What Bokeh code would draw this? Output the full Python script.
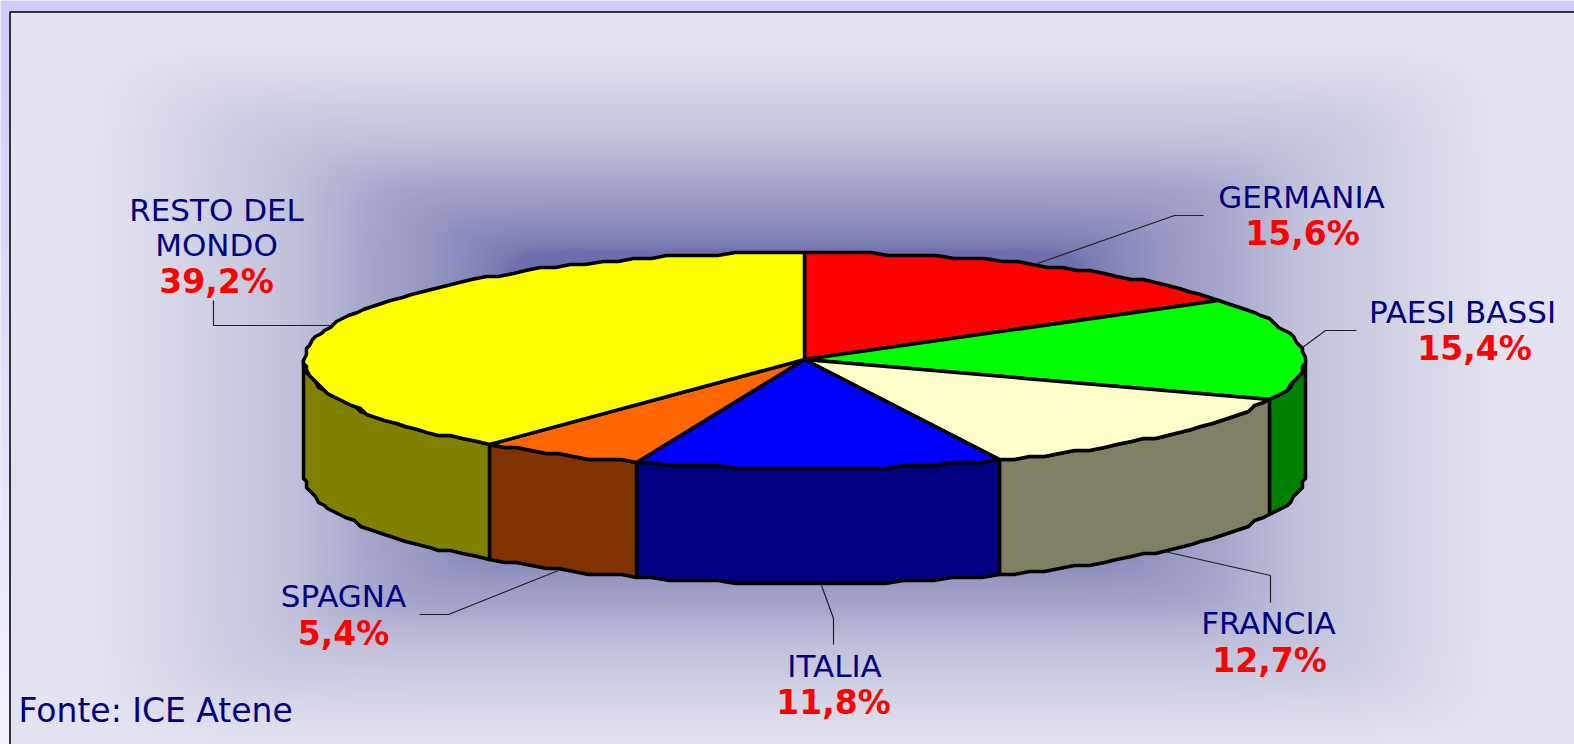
import numpy as np
from bokeh.plotting import figure
from bokeh.models import Range1d
from bokeh.core.properties import value
from bokeh.embed import file_html
from bokeh.resources import INLINE

# ---- data ----
labels = ["GERMANIA", "PAESI BASSI", "FRANCIA", "ITALIA", "SPAGNA", "RESTO DEL MONDO"]
shares = [15.6, 15.4, 12.7, 11.8, 5.4, 39.2]
top_colors = ["#ff0000", "#00ff00", "#ffffcc", "#0000ff", "#ff6600", "#ffff00"]
side_colors = ["#800000", "#008000", "#808066", "#000080", "#803300", "#808000"]
source_note = "Fonte: ICE Atene"

W, H = 1574, 744
NAVY = "#000080"
FONT = value("DejaVu Sans")

def Y(py):
    return H - py

p = figure(width=W, height=H, output_backend="svg", toolbar_location=None,
           x_range=Range1d(0, W), y_range=Range1d(0, H),
           min_border=0, outline_line_color=None, background_fill_color="#e2e2f0",
           border_fill_color=None)
p.axis.visible = False
p.grid.visible = False

# ---- background gradient ----
px = np.arange(0, W) + 0.5
py = np.arange(H, 0, -1) - 0.5
xx, yy = np.meshgrid(px, py)
u = np.abs(xx - 795) / 700
v = np.abs(yy - 394) / 350
PN = 14.0
t = (u ** PN + v ** PN) ** (1 / PN)
stops_t = [0.0, 0.41, 0.426, 0.52, 0.617, 0.71, 0.806, 0.9, 1.0]
r = np.interp(t, stops_t, [60, 112, 124, 150, 168, 192, 204, 216, 226])
b = np.interp(t, stops_t, [150, 174, 180, 194, 204, 218, 226, 232, 240])
img = np.zeros(xx.shape, dtype=np.uint32)
view = img.view(dtype=np.uint8).reshape((H, W, 4))
view[..., 0] = r
view[..., 1] = r
view[..., 2] = b
view[..., 3] = 255
frac = yy / H
left = xx < 9
view[left, 0] = (204 + 40 * frac)[left]
view[left, 1] = (204 + 40 * frac)[left]
view[left, 2] = 255
top = yy < 11
view[top, 0] = 204
view[top, 1] = 204
view[top, 2] = 255
p.image_rgba(image=[img], x=0, y=0, dw=W, dh=H)
p.line([9.5, 9.5, W], [0, Y(11.5), Y(11.5)], line_color="#333333", line_width=2)

# ---- pie ----
CX, CY, A, B, DEPTH = 804, 360, 500, 108, 115
GRID = 3.0
STEP = 2.0

def snap(a):
    return np.round(np.asarray(a, dtype=float) / GRID) * GRID

def arc(t0, t1, dy=0.0):
    n = max(2, int(np.ceil((t1 - t0) / STEP)) + 1)
    t = np.radians(np.linspace(t0, t1, n))
    return snap(CX + A * np.sin(t)), snap(CY - B * np.cos(t)) + dy

total = sum(shares)
edges = np.concatenate([[0], np.cumsum(shares)]) / total * 360

# sides first (only front half, 90..270 degrees)
sx, sy, sc = [], [], []
for s, t0, t1, c in zip(shares, edges[:-1], edges[1:], side_colors):
    a0, a1 = max(t0, 90), min(t1, 270)
    if a1 <= a0:
        continue
    x1, y1 = arc(a0, a1)
    x2, y2 = arc(a0, a1, DEPTH)
    sx.append(np.concatenate([x1, x2[::-1]]))
    sy.append(Y(np.concatenate([y1, y2[::-1]])))
    sc.append(c)
p.patches(sx, sy, fill_color=sc, line_color="black", line_width=3.5, line_join="round")

# top slices
tx, ty = [], []
for t0, t1 in zip(edges[:-1], edges[1:]):
    x1, y1 = arc(t0, t1)
    tx.append(np.concatenate([[CX], x1]))
    ty.append(Y(np.concatenate([[CY - 1], y1])))
p.patches(tx, ty, fill_color=top_colors, line_color="black", line_width=3.5, line_join="round")

# ---- leaders ----
leaders = [
    ([1203, 1174, 1037], [215, 215, 263]),
    ([1356, 1325, 1302], [330, 330, 347]),
    ([1270, 1270, 1164], [602, 575, 551]),
    ([833, 833, 821], [644, 618, 585]),
    ([419, 448, 558], [614, 614, 570]),
    ([213, 213, 330], [300, 325, 325]),
]
for lx, ly in leaders:
    p.line(lx, [Y(y) for y in ly], line_color="#222222", line_width=1.2)

# ---- labels ----
pct = [f"{s:.1f}".replace(".", ",") + "%" for s in shares]
name_lines = [["GERMANIA"], ["PAESI BASSI"], ["FRANCIA"], ["ITALIA"], ["SPAGNA"], ["RESTO DEL", "MONDO"]]
name_pos = [[(1301, 196)], [(1462, 311)], [(1268, 622)], [(834, 665)], [(343, 595)], [(216, 209), (216, 244)]]
pct_pos = [(1302, 233), (1474, 348), (1269, 660), (833, 702), (343, 633), (216, 281)]

for lines, pos in zip(name_lines, name_pos):
    for t_, (x, y) in zip(lines, pos):
        p.text([x], [Y(y)], text=[t_], text_color=NAVY, text_font=FONT, text_font_size="31px",
               text_align="center", text_baseline="middle")
for t_, (x, y) in zip(pct, pct_pos):
    p.text([x], [Y(y)], text=[t_], text_color="#ff0000", text_font=FONT, text_font_size="33px",
           text_font_style="bold", text_align="center", text_baseline="middle")
p.text([18], [Y(710)], text=[source_note], text_color=NAVY, text_font=FONT, text_font_size="33px",
       text_align="left", text_baseline="middle")

open("out.html", "w").write(file_html(p, INLINE))
